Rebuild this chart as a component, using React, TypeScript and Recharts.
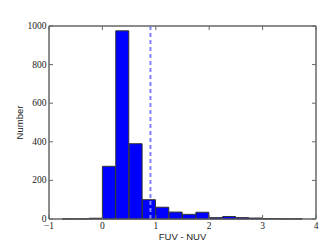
import { ComposedChart, Bar, Line, XAxis, YAxis, ReferenceLine, ReferenceArea } from 'recharts'

// histogram bins (left edges, width 0.25) and counts
const binStarts = [-1, -0.75, -0.5, -0.25, 0, 0.25, 0.5, 0.75, 1, 1.25, 1.5, 1.75, 2, 2.25, 2.5, 2.75, 3, 3.25, 3.5, 3.75]
const counts = [0, 1, 1, 4, 273, 975, 390, 100, 61, 36, 24, 35, 7, 13, 7, 5, 2, 1, 1, 0]
const xTicks = [-1, 0, 1, 2, 3, 4]
const yTicks = [0, 200, 400, 600, 800, 1000]
const meanColor = 0.9

const data = binStarts.map((b, i) => ({ bin: b, count: counts[i] }))

const AXIS = '#666'
const SERIF = '"Liberation Serif", "DejaVu Serif", serif'
const SANS = '"Liberation Sans", Arial, sans-serif'

const fmt = (v: number) => (v < 0 ? `\u2212${Math.abs(v)}` : `${v}`)

// matplotlib-style ticks: drawn inward, with the label outside
function BottomTick({ x, y, payload }: any) {
  return (
    <g>
      <line x1={x} y1={y} x2={x} y2={y - 4} stroke={AXIS} />
      <text x={x} y={y + 10} textAnchor="middle" fontSize={9.5} fontFamily={SERIF} fill="#222">
        {fmt(payload.value)}
      </text>
    </g>
  )
}

function TopTick({ x, y }: any) {
  return <line x1={x} y1={y} x2={x} y2={y + 4} stroke={AXIS} />
}

function LeftTick({ x, y, payload }: any) {
  return (
    <g>
      <line x1={x} y1={y} x2={x + 4} y2={y} stroke={AXIS} />
      <text x={x - 2.5} y={y + 3} textAnchor="end" fontSize={9.5} fontFamily={SERIF} fill="#222">
        {payload.value}
      </text>
    </g>
  )
}

function RightTick({ x, y }: any) {
  return <line x1={x} y1={y} x2={x - 4} y2={y} stroke={AXIS} />
}

export default function App() {
  return (
    <div style={{ position: 'absolute', left: 0, top: 0, width: 332, height: 249, background: '#fff' }}>
      <ComposedChart
        width={332}
        height={249}
        data={data}
        margin={{ top: 25, right: 15, bottom: 0, left: 0 }}
        barCategoryGap={0}
        barGap={0}
      >
        <XAxis
          xAxisId="num"
          dataKey="bin"
          type="number"
          domain={[-1, 4]}
          allowDataOverflow
          ticks={xTicks}
          height={30}
          axisLine={{ stroke: AXIS }}
          tickSize={0}
          tickMargin={0}
          tick={<BottomTick />}
          label={{ value: 'FUV - NUV', position: 'insideBottom', offset: 9, fontSize: 9.5, fontFamily: SANS, fill: '#222' }}
        />
        <XAxis xAxisId="cat" dataKey="bin" type="category" hide height={0} />
        <XAxis
          xAxisId="top"
          orientation="top"
          dataKey="bin"
          type="number"
          domain={[-1, 4]}
          allowDataOverflow
          ticks={xTicks}
          height={1}
          axisLine={{ stroke: AXIS }}
          tickSize={0}
          tickMargin={0}
          tick={<TopTick />}
        />
        <YAxis
          yAxisId="left"
          domain={[0, 1000]}
          ticks={yTicks}
          width={49}
          axisLine={{ stroke: AXIS }}
          tickSize={0}
          tickMargin={0}
          tick={<LeftTick />}
          label={{ value: 'Number', angle: -90, position: 'insideLeft', offset: 20, fontSize: 9.5, fontFamily: SANS, fill: '#222', style: { textAnchor: 'middle' } }}
        />
        <YAxis
          yAxisId="right"
          orientation="right"
          domain={[0, 1000]}
          ticks={yTicks}
          width={1}
          axisLine={{ stroke: AXIS }}
          tickSize={0}
          tickMargin={0}
          tick={<RightTick />}
        />
        <ReferenceLine
          xAxisId="num"
          yAxisId="left"
          x={meanColor}
          stroke="#8080ff"
          strokeWidth={2}
          strokeDasharray="4 3"
        />
        <Bar
          xAxisId="cat"
          yAxisId="left"
          dataKey="count"
          fill="#0000ff"
          stroke="#333"
          strokeWidth={1}
          isAnimationActive={false}
        />
        {/* ties the top/right tick axes to the data; draws nothing */}
        <Line
          xAxisId="top"
          yAxisId="right"
          dataKey="count"
          stroke="none"
          dot={false}
          activeDot={false}
          isAnimationActive={false}
        />
        {/* plot frame */}
        <ReferenceArea
          xAxisId="num"
          yAxisId="left"
          x1={-1}
          x2={4}
          y1={0}
          y2={1000}
          ifOverflow="visible"
          fill="none"
          stroke={AXIS}
          strokeWidth={1}
        />
      </ComposedChart>
    </div>
  )
}
